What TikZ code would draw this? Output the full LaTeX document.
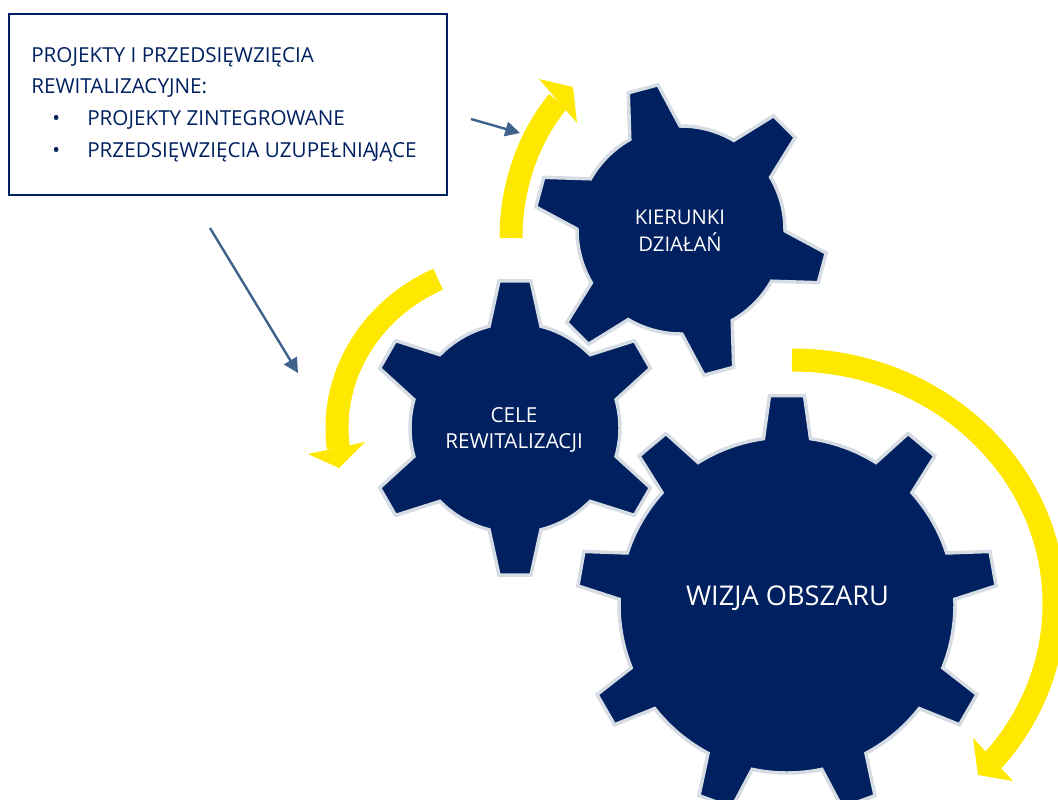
\documentclass[tikz,border=0pt]{standalone}
\usepackage{fontspec}
\setmainfont{Open Sans}
\usetikzlibrary{arrows.meta}
\definecolor{navy}{RGB}{0,32,96}
\definecolor{gearedge}{RGB}{214,220,228}
\definecolor{ylw}{RGB}{255,232,0}
\definecolor{steel}{RGB}{62,98,140}
% #1,#2 centre; #3 body radius; #4 tip radius; #5 teeth; #6 first tooth angle; #7 half angle at base; #8 half angle at tip
\newcommand{\gearpath}[8]{%
  \begin{scope}[shift={(#1,#2)}]
  \filldraw[gearbody] ({#6-#7}:#3)
  \foreach \k in {1,...,#5}{
    -- ({#6+(\k-1)*360/#5-#8}:#4) -- ({#6+(\k-1)*360/#5+#8}:#4) -- ({#6+(\k-1)*360/#5+#7}:#3)
    arc[start angle={#6+(\k-1)*360/#5+#7}, end angle={#6+\k*360/#5-#7}, radius=#3]
  } -- cycle;
  \end{scope}}
\begin{document}
\begin{tikzpicture}[x=0.75pt,y=-0.75pt,
  gearbody/.style={fill=navy, draw=gearedge, line width=2.6pt, line join=miter},
  geartext/.style={text=white, align=center, inner sep=0pt},
  band/.style={draw=ylw, line width=17.25pt},
  headfill/.style={fill=ylw},
  conn/.style={draw=steel, line width=1.8pt, -{Triangle[length=11pt,width=11pt]}},
  boxstyle/.style={draw=navy, line width=1.5pt, minimum width=328.5pt, minimum height=135.75pt, inner sep=0pt},
  boxtext/.style={text=navy, align=left, inner sep=0pt, font=\fontsize{15.5}{23.7}\selectfont}]
\useasboundingbox (0,0) rectangle (1058,800);

% gears
\gearpath{787}{605}{168}{210}{9}{-90}{8.04}{4.78}
\gearpath{515}{428}{105}{148}{6}{-90}{14.3}{6.2}
\gearpath{681}{230}{104}{147}{6}{-105}{14.5}{6.0}

\node[geartext, font=\fontsize{15.2}{20.5}\selectfont] (kier) at (680,231) {KIERUNKI\\DZIAŁAŃ};
\node[geartext, font=\fontsize{15.5}{20}\selectfont] (cele) at (514,430) {CELE\\REWITALIZACJI};
\node[geartext, font=\fontsize{20.4}{24}\selectfont] (wizja) at (787.5,598) {WIZJA OBSZARU};

% yellow circular arrows
\coordinate (ya) at (511,238);
\draw[band] (ya) arc[start angle=180, end angle=223.7, x radius=170, y radius=198];
\fill[headfill] (539,79) -- (573,87) -- (577,123) -- cycle;

\coordinate (yb) at (438.1,279.2);
\draw[band] (yb) arc[start angle=244.4, end angle=173, x radius=178, y radius=165];
\fill[headfill] (308,454) -- (339,468) -- (365,442) -- cycle;

\coordinate (yc) at (792,360);
\draw[band] (yc) arc[start angle=-90, end angle=39.9, x radius=262, y radius=244];
\fill[headfill] (973,738) -- (978,775) -- (1013,781) -- cycle;

% text box
\node[boxstyle] (box) at (228,104.5) {};
\node[boxtext, anchor=west] (boxtxt) at ([xshift=17.25pt]box.west) {%
PROJEKTY I PRZEDSIĘWZIĘCIA\\
REWITALIZACYJNE:\\
\hspace*{15.75pt}\makebox[26.25pt][l]{•}PROJEKTY ZINTEGROWANE\\
\hspace*{15.75pt}\makebox[26.25pt][l]{•}PRZEDSIĘWZIĘCIA UZUPEŁNIA\kern-1.5pt JĄCE};

% connectors
\coordinate (c1s) at (471,119);
\coordinate (c1e) at (520,133);
\draw[conn] (c1s) -- (c1e);
\coordinate (c2s) at (210,228);
\coordinate (c2e) at (298,373);
\draw[conn] (c2s) -- (c2e);
\end{tikzpicture}
\end{document}
